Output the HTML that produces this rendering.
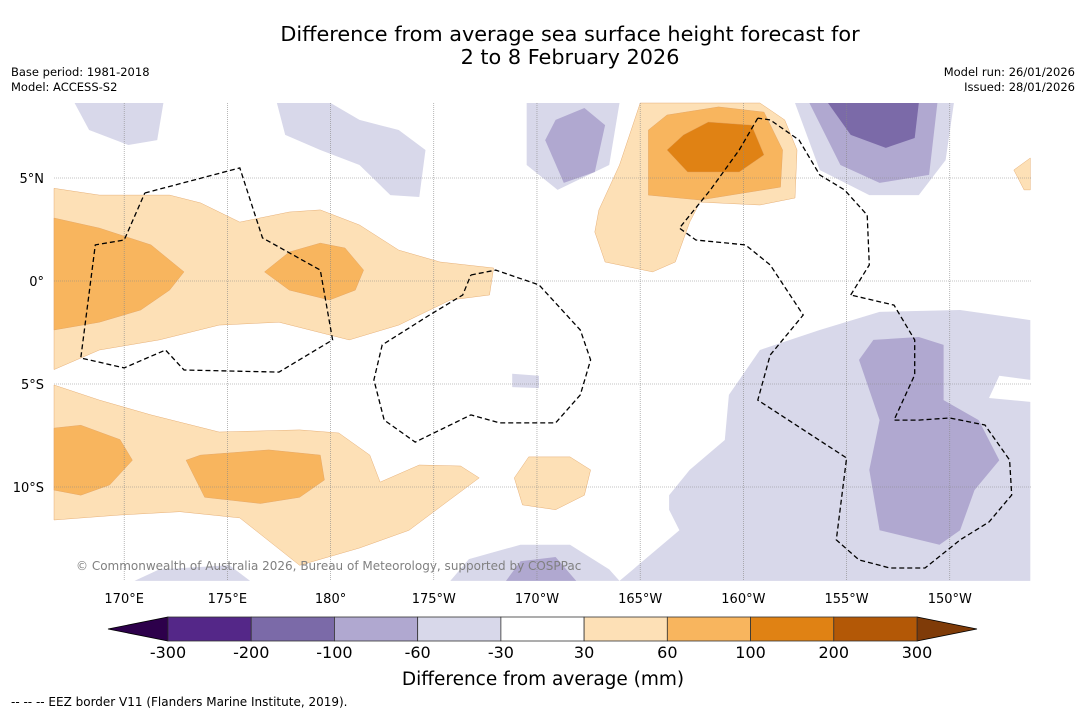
<!DOCTYPE html>
<html><head><meta charset="utf-8">
<style>
body{margin:0;background:#fff;font-family:"DejaVu Sans","Liberation Sans",sans-serif;}
svg text{font-family:"DejaVu Sans","Liberation Sans",sans-serif;}
</style></head>
<body>
<svg id="chart" width="1085" height="713" viewBox="0 0 1085 713" xmlns="http://www.w3.org/2000/svg">
<rect width="1085" height="713" fill="#fff"/>
<text x="570" y="41" font-size="20.8" text-anchor="middle">Difference from average sea surface height forecast for</text>
<text x="570" y="64" font-size="20.8" text-anchor="middle">2 to 8 February 2026</text>
<text x="11" y="76" font-size="11.5">Base period: 1981-2018</text>
<text x="11" y="91" font-size="11.5">Model: ACCESS-S2</text>
<text x="1075" y="76" font-size="11.5" text-anchor="end">Model run: 26/01/2026</text>
<text x="1075" y="91" font-size="11.5" text-anchor="end">Issued: 28/01/2026</text>
<g id="shapes"></g>
<g id="grid"></g>
<g id="eez"></g>
<text x="76" y="570" font-size="12" fill="#808080">© Commonwealth of Australia 2026, Bureau of Meteorology, supported by COSPPac</text>
<g id="axes"></g>
<g id="colorbar"></g>
<text x="543" y="685" font-size="18.5" text-anchor="middle">Difference from average (mm)</text>
<text x="11" y="706" font-size="12">--  --  -- EEZ border V11 (Flanders Marine Institute, 2019).</text>
</svg>
<script>
const NS="http://www.w3.org/2000/svg";
const lonTicks=[170,175,180,185,190,195,200,205,210];
const lonLabels=["170°E","175°E","180°","175°W","170°W","165°W","160°W","155°W","150°W"];
const latTicks=[5,0,-5,-10];
const latLabels=["5°N","0°","5°S","10°S"];
const levels=["-300","-200","-100","-60","-30","30","60","100","200","300"];
const boxColors=["#542788","#7b6aa8","#b0a8d0","#d8d8ea","#ffffff","#fde0b6","#f8b55e","#e08214","#b35806"];
const lowColor="#2d004b", highColor="#7f3b08";
const C={o1:"#fde0b6",o2:"#f8b55e",o3:"#e08214",p1:"#d8d8ea",p2:"#b0a8d0",p3:"#7b6aa8"};
const contours=[
 ["o1",[[166.6,4.5],[166.6,-4.3],[168.8,-3.35],[171.7,-2.86],[174.6,-2.14],[177.5,-2.0],[180.9,-2.86],[183.3,-2.14],[185.8,-0.92],[187.7,-0.68],[187.9,0.63],[185.3,0.92],[183.3,1.5],[181.4,2.72],[179.5,3.45],[178.0,3.35],[175.6,2.86],[173.7,3.79],[172.2,4.17],[168.8,4.17]]],
 ["o2",[[166.6,3.06],[166.6,-2.38],[168.8,-2.0],[170.8,-1.41],[172.2,-0.44],[172.9,0.44],[171.3,1.75],[168.8,2.57]]],
 ["o2",[[176.8,0.44],[178.0,-0.44],[179.95,-0.92],[181.2,-0.44],[181.6,0.53],[180.7,1.6],[179.5,1.84],[178.0,1.41]]],
 ["o1",[[166.6,-5.05],[166.6,-11.6],[169.8,-11.36],[172.7,-11.2],[175.6,-11.5],[178.5,-13.8],[181.4,-12.96],[183.8,-12.1],[185.8,-10.6],[187.2,-9.56],[186.3,-8.98],[184.3,-8.93],[182.4,-9.76],[181.9,-8.45],[180.4,-7.38],[178.5,-7.23],[174.6,-7.33],[171.3,-6.5],[168.8,-5.78]]],
 ["o2",[[166.6,-7.14],[166.6,-10.15],[167.9,-10.4],[169.3,-9.9],[170.4,-8.7],[169.8,-7.7],[167.9,-7.0]]],
 ["o2",[[173.0,-8.7],[173.9,-10.5],[176.6,-10.8],[178.5,-10.5],[179.7,-9.66],[179.5,-8.45],[177.0,-8.2],[173.7,-8.45]]],
 ["o1",[[188.9,-9.56],[189.3,-10.87],[190.9,-11.1],[192.3,-10.4],[192.6,-9.17],[191.6,-8.54],[189.6,-8.54]]],
 ["o1",[[192.8,2.38],[193.3,0.92],[195.6,0.44],[196.7,0.92],[197.4,2.86],[197.9,3.83],[200.8,3.69],[202.5,4.03],[202.6,6.36],[202.0,7.82],[200.8,8.64],[195.0,8.64],[194.0,5.63],[193.0,3.45]]],
 ["o2",[[195.4,7.33],[195.4,4.17],[197.9,3.93],[201.8,4.56],[201.9,6.36],[201.0,8.2],[198.8,8.45],[196.3,8.06]]],
 ["o3",[[196.3,6.36],[197.3,5.29],[199.8,5.29],[201.0,6.12],[200.4,7.57],[198.3,7.72],[197.1,7.09]]],
 ["o1",[[213.1,5.39],[213.6,4.42],[213.9,4.42],[213.9,5.97]]],
 ["p1",[[167.6,8.64],[168.3,7.33],[170.2,6.6],[171.6,6.84],[171.9,8.64]]],
 ["p1",[[177.4,8.64],[177.8,7.09],[179.5,6.36],[181.4,5.63],[182.9,4.17],[184.3,4.08],[184.6,6.36],[183.3,7.33],[181.4,7.82],[180.0,8.64]]],
 ["p1",[[189.5,8.64],[189.5,5.63],[191.0,4.42],[193.5,5.63],[194.0,8.64]]],
 ["p2",[[190.4,6.84],[191.3,4.76],[192.8,5.29],[193.3,7.57],[192.3,8.4],[190.9,7.82]]],
 ["p1",[[202.5,8.64],[203.7,5.39],[206.1,4.17],[208.5,4.17],[209.8,5.87],[210.2,8.64]]],
 ["p2",[[203.2,8.64],[204.7,5.63],[206.6,4.76],[209.0,5.15],[209.4,8.64]]],
 ["p3",[[204.1,8.64],[205.2,7.09],[206.9,6.46],[208.3,6.94],[208.5,8.64]]],
 ["p1",[[196.4,-10.4],[197.4,-9.17],[199.1,-7.72],[199.3,-5.53],[200.8,-3.35],[203.7,-2.38],[206.6,-1.5],[210.5,-1.41],[213.9,-1.9],[213.9,-4.8],[212.4,-4.6],[211.9,-5.68],[213.9,-5.87],[213.9,-14.56],[194.0,-14.56],[196.9,-12.1],[196.4,-11.1]]],
 ["p2",[[205.6,-3.83],[206.6,-6.75],[206.1,-9.17],[206.6,-12.1],[209.5,-12.8],[210.5,-12.1],[211.2,-10.15],[212.4,-8.7],[211.4,-6.75],[209.7,-5.78],[209.7,-3.1],[208.5,-2.72],[206.3,-2.86]]],
 ["p1",[[185.8,-14.56],[186.7,-13.5],[189.2,-12.8],[191.6,-12.8],[193.5,-14.0],[194.0,-14.56]]],
 ["p2",[[188.5,-14.56],[189.2,-13.6],[190.9,-13.4],[191.9,-14.56]]],
 ["p1",[[188.8,-4.5],[190.1,-4.6],[190.1,-5.2],[188.8,-5.15]]],
 ["p1",[[170.5,-14.56],[171.7,-14.0],[175.1,-13.8],[176.1,-14.56]]]
];
const eezLines=[
 [[171.0,4.27],[175.6,5.49],[176.7,2.09],[179.5,0.53],[180.1,-2.86],[177.5,-4.42],[172.9,-4.32],[172.0,-3.35],[170.0,-4.22],[167.9,-3.74],[168.6,1.75],[170.0,1.99],[171.0,4.27]],
 [[186.8,0.29],[188.0,0.53],[190.1,-0.19],[192.1,-2.38],[192.6,-3.83],[192.1,-5.53],[190.9,-6.89],[188.2,-6.89],[186.8,-6.5],[184.1,-7.82],[182.6,-6.75],[182.1,-4.8],[182.5,-3.1],[184.8,-1.65],[186.4,-0.68],[186.8,0.29]],
 [[200.7,7.91],[199.8,6.36],[198.4,4.42],[196.9,2.57],[197.7,1.99],[200.1,1.75],[201.3,0.78],[202.9,-1.65],[201.3,-3.59],[200.7,-5.78],[205.0,-8.59],[204.5,-12.57],[205.6,-13.54],[207.1,-13.93],[208.8,-13.93],[210.5,-12.57],[211.9,-11.7],[213.0,-10.39],[212.9,-8.69],[211.7,-6.99],[210.0,-6.65],[208.5,-6.75],[207.3,-6.75],[208.3,-4.56],[208.3,-2.86],[207.3,-1.17],[205.2,-0.68]],
 [[205.2,-0.68],[206.1,0.78],[206.0,3.2],[204.9,4.42],[203.7,5.15],[202.7,6.84],[201.3,7.82],[200.7,7.91]]
];
const X0=54,X1=1031,Y0=103,Y1=581;
const xs=lon=>54+(lon-166.6)*20.64;
const ys=lat=>281-lat*20.6;
function mk(tag,attrs,parent){const e=document.createElementNS(NS,tag);for(const k in attrs)e.setAttribute(k,attrs[k]);parent.appendChild(e);return e;}
const shapes=document.getElementById('shapes');
contours.forEach((c,i)=>{
 const p=mk('polygon',{points:c[1].map(q=>xs(q[0]).toFixed(1)+','+ys(q[1]).toFixed(1)).join(' '),fill:C[c[0]],stroke:c[0][0]==='o'?'#e0a060':'none','stroke-width':0.4},shapes);
 
 
});
const grid=document.getElementById('grid'),axes=document.getElementById('axes');
lonTicks.forEach((l,i)=>{
 const g=mk('line',{x1:xs(l),x2:xs(l),y1:Y0,y2:Y1,stroke:'#888','stroke-width':0.6,'stroke-dasharray':'1,1'},grid);
 
 
 const t=mk('text',{x:xs(l),y:603,'font-size':13,'text-anchor':'middle'},axes);t.textContent=lonLabels[i];
 
 
});
latTicks.forEach((l,i)=>{
 const g=mk('line',{x1:X0,x2:X1,y1:ys(l),y2:ys(l),stroke:'#888','stroke-width':0.6,'stroke-dasharray':'1,1'},grid);
 
 
 const t=mk('text',{x:44,y:ys(l)+5,'font-size':13,'text-anchor':'end'},axes);t.textContent=latLabels[i];
 
 
});
const eez=document.getElementById('eez');
eezLines.forEach(L=>{
 const p=mk('polyline',{points:L.map(q=>xs(q[0]).toFixed(1)+','+ys(q[1]).toFixed(1)).join(' '),fill:'none',stroke:'#000','stroke-width':1.3,'stroke-dasharray':'5,3'},eez);
 
 
});
const cb=document.getElementById('colorbar');
const cx0=168,cx1=917,cy0=617,cy1=641,bw=(cx1-cx0)/boxColors.length;
const la=mk('polygon',{points:`108,629 ${cx0},${cy0} ${cx0},${cy1}`,fill:lowColor,stroke:'#000','stroke-width':0.8},cb);


const ha=mk('polygon',{points:`977,629 ${cx1},${cy0} ${cx1},${cy1}`,fill:highColor,stroke:'#000','stroke-width':0.8},cb);


boxColors.forEach((c,i)=>{
 const r=mk('rect',{x:cx0+i*bw,y:cy0,width:bw,height:cy1-cy0,fill:c,stroke:'#333','stroke-width':0.8},cb);
 
 
});
levels.forEach((v,i)=>{
 const t=mk('text',{x:cx0+i*bw,y:658,'font-size':16,'text-anchor':'middle'},cb);t.textContent=v;
 
 
});
</script>
</body></html>
